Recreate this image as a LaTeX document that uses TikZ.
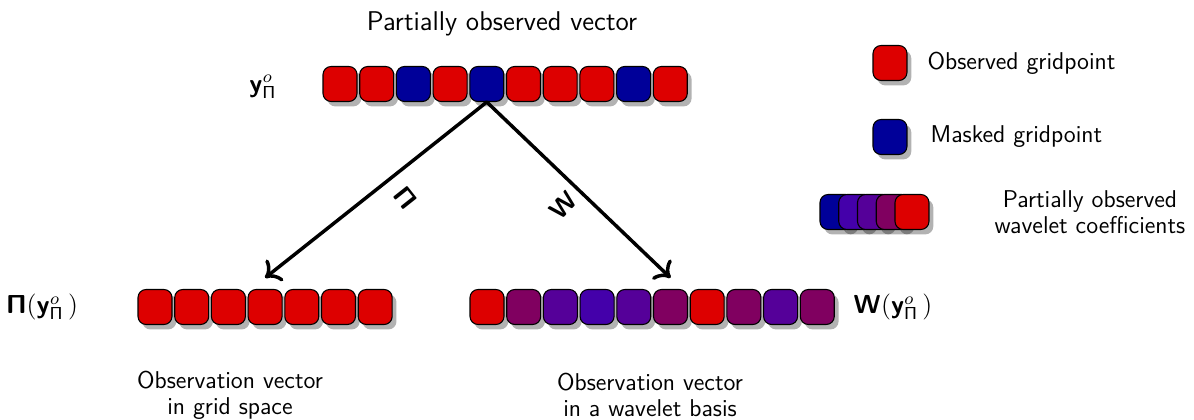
\documentclass[tikz,border=0pt]{standalone}
\usepackage{tikz}
\usetikzlibrary{arrows.meta,positioning,shadows}
\DeclareMathAlphabet{\mathbsf}{OT1}{cmss}{bx}{n}
\definecolor{obsred}{RGB}{221,0,0}
\definecolor{maskblue}{RGB}{0,0,153}
\definecolor{wpurple}{RGB}{128,0,96}
\definecolor{wviolet}{RGB}{85,0,153}
\definecolor{windigo}{RGB}{68,0,170}

\begin{document}
\begin{tikzpicture}[x=0.0162cm, y=-0.0162cm,
    every node/.style={font=\sffamily\fontsize{11.2}{12}\selectfont},
    cell/.style={rectangle, draw=black, line width=0.5pt, rounded corners=1.3mm, minimum width=0.55cm, minimum height=0.567cm, inner sep=0pt, fill=#1,
        drop shadow={shadow xshift=0.07cm, shadow yshift=-0.08cm, fill=black, opacity=0.3}},
    cell/.default=obsred,
    arr/.style={-{To[length=2.2mm, width=4.4mm, line width=1.6pt]}, line width=1.6pt, line cap=round},
    lbl/.style={font=\sffamily\fontsize{12}{14}\selectfont}
]
\useasboundingbox (0,0) rectangle (1194,420);

% Partially observed vector
\node[font=\sffamily\fontsize{12.5}{14}\selectfont] (title) at (502,24) {Partially observed vector};
\node[lbl] (ylbl) at (263,87) {$\mathbsf{y}^{o}_{\mathsf{\Pi}}$};
\foreach \c [count=\i] in {obsred,obsred,maskblue,obsred,maskblue,obsred,obsred,obsred,maskblue,obsred}
    \node[cell=\c] (t\i) at ({340+(\i-1)*36.7},84) {};

% Grid space
\node[lbl] (pilbl) at (42,307) {$\mathbsf{\Pi}(\mathbsf{y}^{o}_{\mathsf{\Pi}}\,)$};
\foreach \i in {1,...,7}
    \node[cell] (l\i) at ({155+(\i-1)*36.7},307) {};
\node[align=center] (gridtxt) at (230,395) {Observation vector\\in grid space};

% Wavelet basis
\foreach \c [count=\i] in {obsred,wpurple,wviolet,windigo,wviolet,wpurple,obsred,wpurple,wviolet,wpurple}
    \node[cell=\c] (w\i) at ({487+(\i-1)*36.7},307) {};
\node[lbl] (wlbl) at (893,307) {$\mathbsf{W}(\mathbsf{y}^{o}_{\mathsf{\Pi}}\,)$};
\node[align=center] (wavtxt) at (650,395) {Observation vector\\in a wavelet basis};

% Arrows
\draw[arr] (t5.south) -- ([yshift=0.18cm]l4.north);
\draw[arr] (t5.south) -- ([yshift=0.18cm]w6.north);
\node[lbl, rotate=-51.6] (pisym) at (405,198) {$\mathbsf{\Pi}$};
\node[lbl, rotate=46.4] (wsym) at (563,205) {$\mathbsf{W}$};

% Legend
\node[cell=obsred] (lgobs) at (890,63) {};
\node[right=0.2cm of lgobs] (lgobstxt) {Observed gridpoint};
\node[cell=maskblue] (lgmask) at (890,137) {};
\node[right=0.25cm of lgmask] (lgmasktxt) {Masked gridpoint};
\foreach \c [count=\i] in {maskblue,windigo,wviolet,wpurple,obsred}
    \node[cell=\c] (s\i) at ({837+(\i-1)*18.75},212) {};
\node[align=center] (lgwavtxt) at (1090,212) {Partially observed\\wavelet coefficients};

\end{tikzpicture}
\end{document}
